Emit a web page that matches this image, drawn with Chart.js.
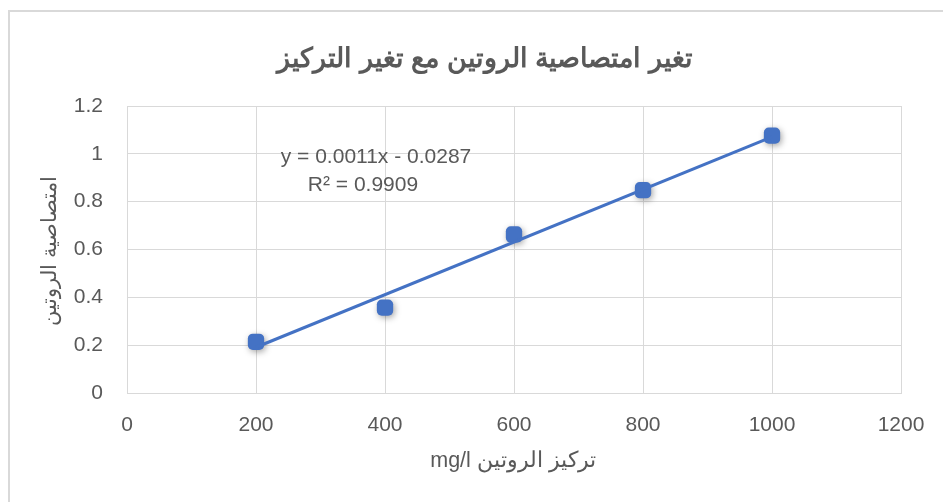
<!DOCTYPE html>
<html>
<head>
<meta charset="utf-8">
<script src="https://cdn.jsdelivr.net/npm/chart.js@4/dist/chart.umd.min.js"></script>
<style>
  html, body { margin: 0; padding: 0; background: #ffffff; }
  #wrap { width: 943px; height: 502px; position: relative; }
</style>
</head>
<body>
<div id="wrap"><canvas id="c" width="943" height="502"></canvas></div>
<script>
// Rutin concentration (mg/l) and measured absorbance
const concentrations = [200, 400, 600, 800, 1000];
const absorbances = [0.214, 0.357, 0.663, 0.848, 1.076];

// Linear trendline coefficients, as printed on the chart
const trendSlope = 0.0011;
const trendIntercept = -0.0287;
const trendLabel = ['y = 0.0011x - 0.0287', 'R² = 0.9909'];

// Axis tick labels
const xTickLabels = ['0', '200', '400', '600', '800', '1000', '1200'];
const yTickLabels = ['0', '0.2', '0.4', '0.6', '0.8', '1', '1.2'];

const chartTitle = 'تغير امتصاصية الروتين مع تغير التركيز';
const xAxisTitle = 'تركيز الروتين mg/l';
const yAxisTitle = 'امتصاصية الروتين';

const BLUE = '#4472C4';
const GRID = '#d9d9d9';
const TEXT = '#595959';
const FONT = '"Liberation Sans", Arial, sans-serif';

const points = concentrations.map((x, i) => ({ x: x, y: absorbances[i] }));
const xFirst = concentrations[0];
const xLast = concentrations[concentrations.length - 1];
const trendPoints = [
  { x: xFirst, y: trendSlope * xFirst + trendIntercept },
  { x: xLast, y: trendSlope * xLast + trendIntercept }
];

// Soft shadow under the markers
const markerShadow = {
  id: 'markerShadow',
  beforeDatasetDraw(chart, args) {
    if (args.index !== 0) return;
    const ctx = chart.ctx;
    ctx.save();
    ctx.shadowColor = 'rgba(0,0,0,0.35)';
    ctx.shadowBlur = 6;
    ctx.shadowOffsetX = 1.5;
    ctx.shadowOffsetY = 2;
  },
  afterDatasetDraw(chart, args) {
    if (args.index !== 0) return;
    chart.ctx.restore();
  }
};

// Frame, titles and trendline equation
const decorations = {
  id: 'decorations',
  beforeDraw(chart) {
    const ctx = chart.ctx;
    ctx.save();
    ctx.fillStyle = '#ffffff';
    ctx.fillRect(0, 0, chart.width, chart.height);
    ctx.strokeStyle = GRID;
    ctx.lineWidth = 2;
    ctx.strokeRect(9, 11, 2000, 2000);
    ctx.restore();
  },
  afterDraw(chart) {
    const ctx = chart.ctx;
    ctx.save();
    ctx.fillStyle = TEXT;
    ctx.textAlign = 'center';
    ctx.textBaseline = 'middle';

    // chart title
    ctx.direction = 'rtl';
    ctx.font = 'bold 27px ' + FONT;
    ctx.fillText(chartTitle, 485, 60);

    // x axis title
    ctx.font = '21.5px ' + FONT;
    ctx.fillText(xAxisTitle, 513, 461);

    // y axis title
    ctx.save();
    ctx.translate(50, 251);
    ctx.rotate(-Math.PI / 2);
    ctx.font = '20.5px ' + FONT;
    ctx.fillText(yAxisTitle, 0, 0);
    ctx.restore();

    // trendline equation
    ctx.direction = 'ltr';
    ctx.font = '21px ' + FONT;
    ctx.fillText(trendLabel[0], 376, 157);
    ctx.fillText(trendLabel[1], 363, 185);
    ctx.restore();
  }
};

new Chart(document.getElementById('c'), {
  type: 'scatter',
  data: {
    datasets: [
      {
        label: 'absorbance',
        data: points,
        pointStyle: 'rectRounded',
        pointRadius: 9.5,
        pointHoverRadius: 9.5,
        backgroundColor: BLUE,
        borderColor: BLUE,
        borderWidth: 0,
        order: 2
      },
      {
        label: 'trend',
        type: 'line',
        data: trendPoints,
        borderColor: BLUE,
        borderWidth: 3,
        pointRadius: 0,
        fill: false,
        order: 1
      }
    ]
  },
  options: {
    responsive: false,
    animation: false,
    events: [],
    layout: { padding: { left: 0, top: 106, right: 42, bottom: 0 } },
    plugins: {
      legend: { display: false },
      title: { display: false },
      tooltip: { enabled: false }
    },
    scales: {
      x: {
        type: 'linear',
        min: 0,
        max: 1200,
        afterFit(scale) {
          scale.height = 109;
          scale.paddingRight = 0;
        },
        ticks: {
          stepSize: 200,
          padding: 20,
          color: TEXT,
          font: { family: FONT, size: 21 },
          maxRotation: 0,
          callback: (v) => xTickLabels[Math.round(v / 200)]
        },
        grid: { color: GRID, lineWidth: 1, drawTicks: false },
        border: { color: GRID, width: 1 }
      },
      y: {
        type: 'linear',
        min: 0,
        max: 1.2,
        afterFit(scale) { scale.width = 127; },
        ticks: {
          stepSize: 0.2,
          padding: 24,
          color: TEXT,
          font: { family: FONT, size: 21 },
          callback: (v) => yTickLabels[Math.round(v / 0.2)]
        },
        grid: { color: GRID, lineWidth: 1, drawTicks: false },
        border: { color: GRID, width: 1 }
      }
    }
  },
  plugins: [markerShadow, decorations]
});
</script>
</body>
</html>
